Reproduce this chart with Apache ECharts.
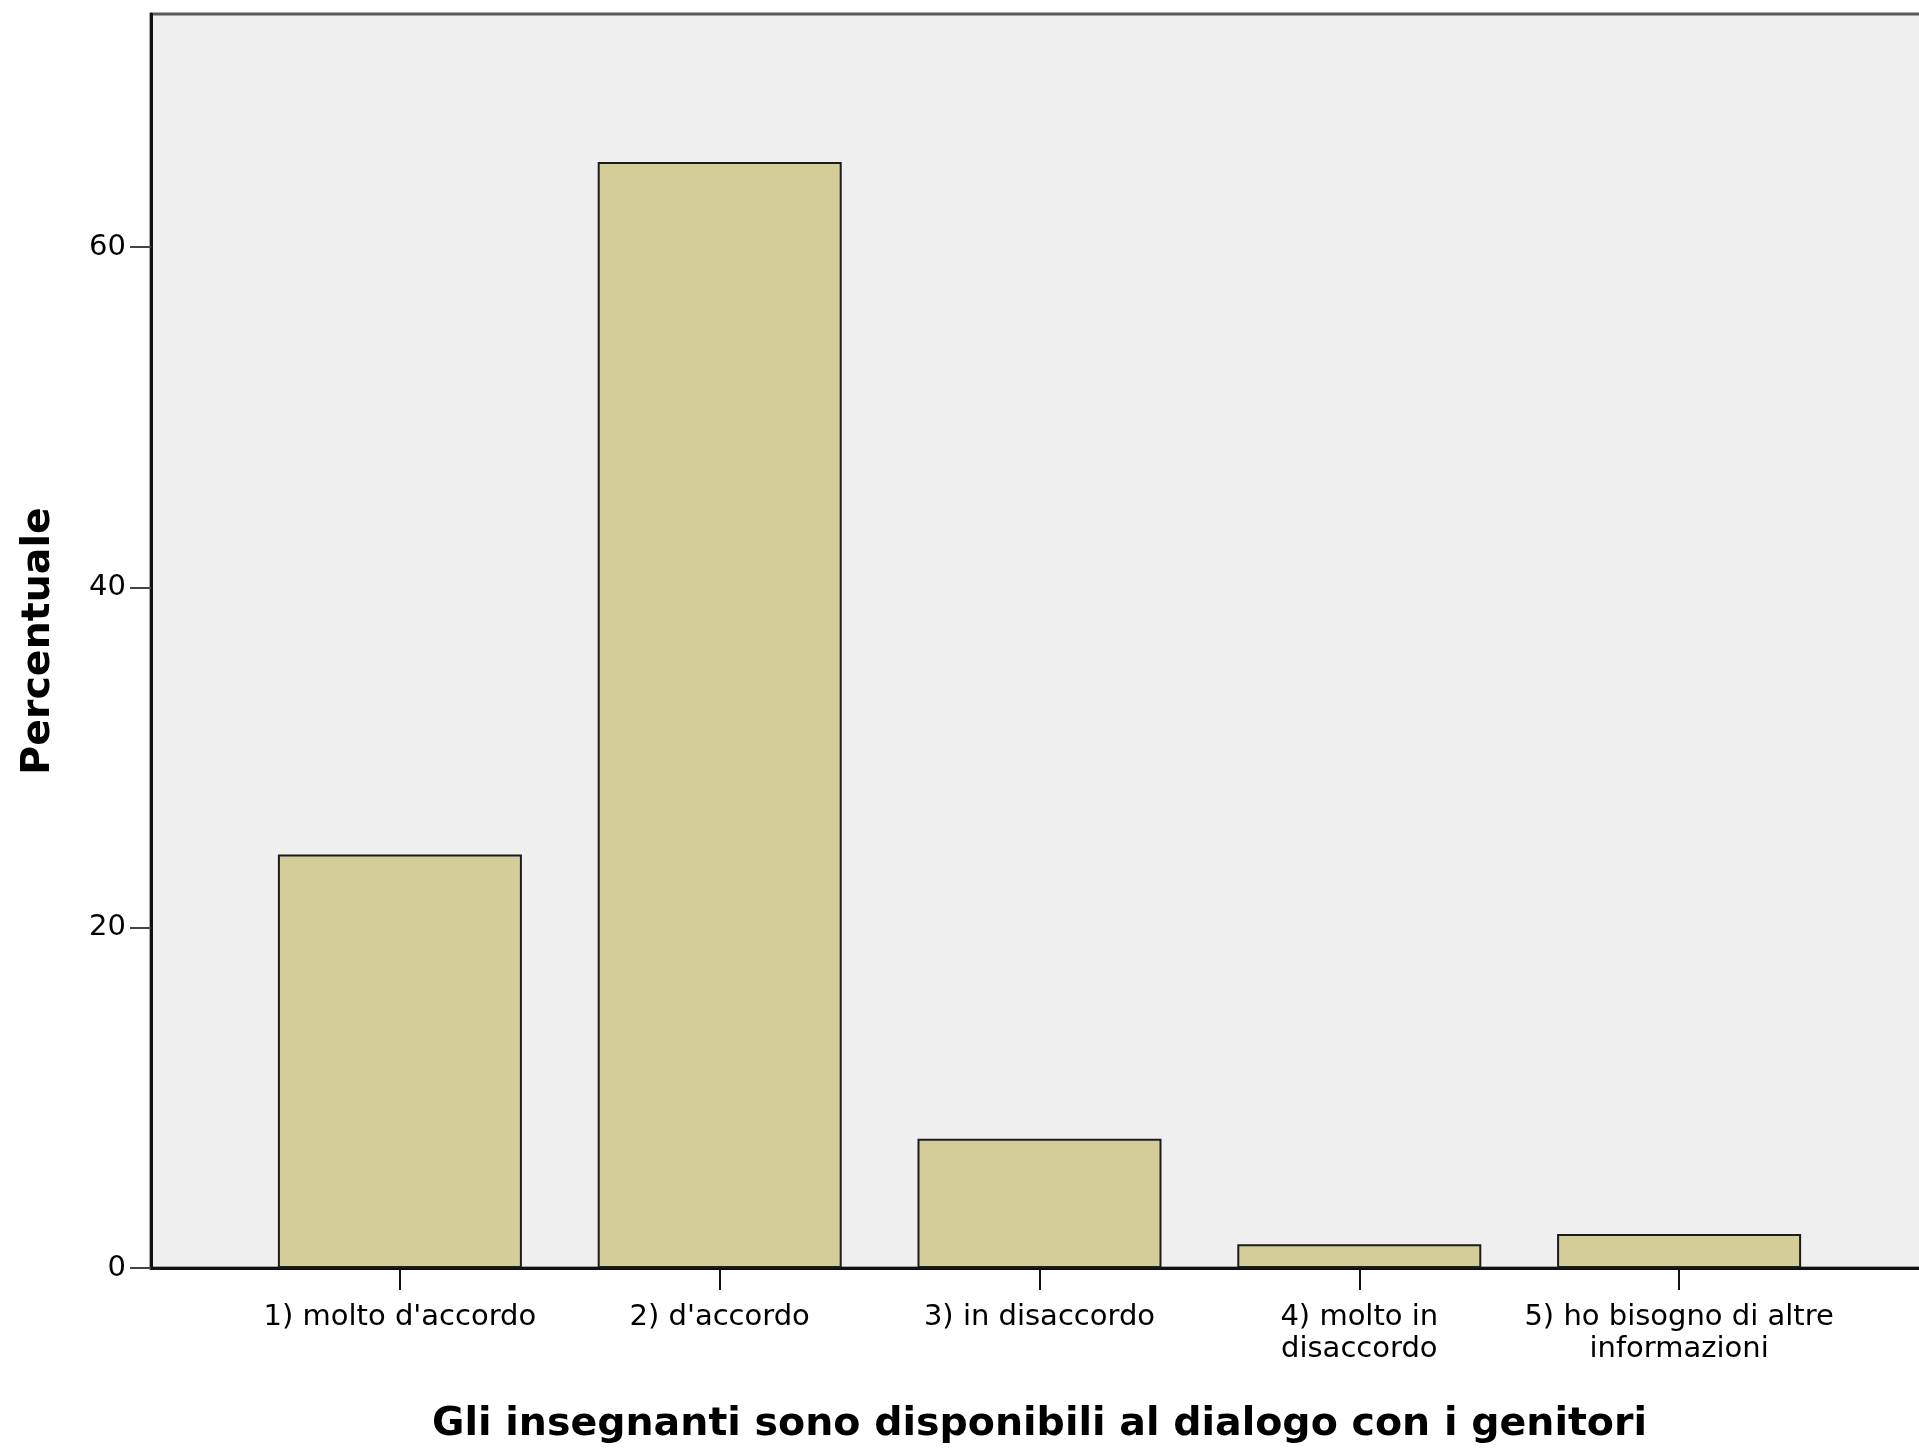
<!DOCTYPE html>
<html>
<head>
<meta charset="utf-8">
<script src="https://cdn.jsdelivr.net/npm/echarts@6/dist/echarts.min.js"></script>
<style>
html,body{margin:0;padding:0;background:#fff;}
#c{width:1919px;height:1448px;}
</style>
</head>
<body>
<div id="c"></div>
<script>
const categories = ["1) molto d'accordo", "2) d'accordo", "3) in disaccordo", "4) molto in\ndisaccordo", "5) ho bisogno di altre\ninformazioni"];
const percentuale = [24.3, 65.0, 7.6, 1.4, 2.0];
const yTicks = [0, 20, 40, 60];
const yMax = 73.7;
const xTitle = "Gli insegnanti sono disponibili al dialogo con i genitori";
const yTitle = "Percentuale";

const chart = echarts.init(document.getElementById('c'));
const labelFont = { fontFamily: 'DejaVu Sans', fontSize: 29, color: '#000' };
chart.setOption({
  animation: false,
  backgroundColor: '#fff',
  grid: [
    { left: 151, right: -3, top: 14, bottom: 180, outerBoundsMode: 'none', containLabel: false, show: true, backgroundColor: '#efefef', borderColor: '#5a5a5a', borderWidth: 3 },
    { left: 240, right: 80, top: 14, bottom: 180, outerBoundsMode: 'none', containLabel: false }
  ],
  xAxis: [
    { gridIndex: 0, type: 'category', data: [''], axisLine: { show: true, lineStyle: { color: '#111', width: 3 } },
      axisTick: { show: false }, axisLabel: { show: false }, splitLine: { show: false } },
    { gridIndex: 1, type: 'category', data: categories,
      axisLine: { show: false },
      axisTick: { show: true, alignWithLabel: true, length: 22, lineStyle: { color: '#111', width: 2 } },
      axisLabel: Object.assign({ margin: 33, lineHeight: 32, interval: 0 }, labelFont),
      name: xTitle, nameLocation: 'middle', nameGap: 137,
      nameTextStyle: { fontFamily: 'DejaVu Sans', fontWeight: 'bold', fontSize: 39.5, color: '#000' } }
  ],
  yAxis: [
    { gridIndex: 0, type: 'value', min: 0, max: yMax,
      axisLine: { show: true, lineStyle: { color: '#111', width: 3 } },
      axisTick: { show: true, length: 21, customValues: yTicks, lineStyle: { color: '#444', width: 2 } },
      axisLabel: Object.assign({ margin: 25, customValues: yTicks }, labelFont),
      splitLine: { show: false },
      name: yTitle, nameLocation: 'middle', nameRotate: 90, nameGap: 92,
      nameTextStyle: { fontFamily: 'DejaVu Sans', fontWeight: 'bold', fontSize: 39.5, color: '#000' } },
    { gridIndex: 1, type: 'value', min: 0, max: yMax, show: false, splitLine: { show: false } }
  ],
  series: [{
    type: 'bar', xAxisIndex: 1, yAxisIndex: 1, data: percentuale, barWidth: 244,
    itemStyle: { color: '#d3ce98', borderColor: '#1c1c1c', borderWidth: 2 }
  }]
});
</script>
</body>
</html>
